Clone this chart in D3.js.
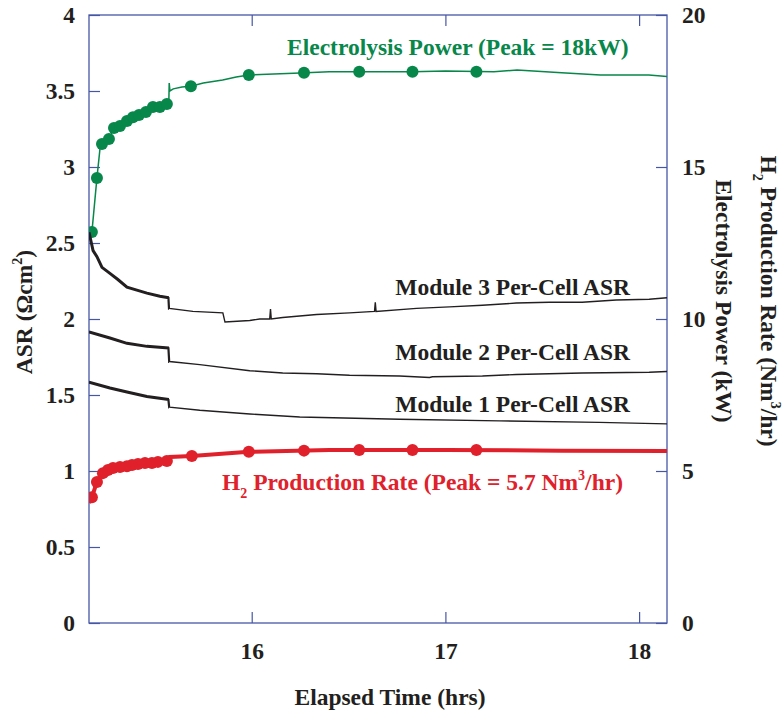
<!DOCTYPE html>
<html>
<head>
<meta charset="utf-8">
<script src="https://cdn.jsdelivr.net/npm/d3@7"></script>
<style>
  body{margin:0;background:#fff;}
  svg text{font-family:"Liberation Serif","Times New Roman",serif;font-weight:bold;}
</style>
</head>
<body>
<div id="chart"></div>
<script>
// ticks
const xTicks = [16, 17, 18];
const asrTicks = [0, 0.5, 1, 1.5, 2, 2.5, 3, 3.5, 4];
const rightTicks = [0, 5, 10, 15, 20];

// per-cell ASR (ohm cm2) vs elapsed time (hrs)
const module3 = [[15.160,2.57],[15.181,2.45],[15.201,2.41],[15.227,2.34],[15.268,2.30],[15.309,2.26],[15.356,2.21],
  [15.407,2.19],[15.459,2.17],[15.526,2.15],[15.572,2.14],[15.575,2.07],[15.696,2.05],[15.851,2.04],[15.862,1.98],
  [15.990,1.99],[16.041,2.00],[16.093,2.00],[16.097,2.065],[16.101,2.00],[16.160,2.01],[16.335,2.03],[16.505,2.04],
  [16.634,2.05],[16.638,2.11],[16.642,2.05],[16.851,2.07],[17.021,2.08],[17.191,2.09],[17.366,2.105],[17.536,2.11],
  [17.706,2.11],[17.882,2.125],[18.052,2.13],[18.144,2.14]];
const module2 = [[15.160,1.915],[15.268,1.875],[15.356,1.84],[15.459,1.82],[15.572,1.81],[15.576,1.72],[15.732,1.70],
  [15.990,1.66],[16.160,1.645],[16.335,1.64],[16.505,1.63],[16.763,1.625],[16.918,1.615],[16.933,1.62],[17.191,1.625],
  [17.366,1.635],[17.706,1.645],[18.052,1.65],[18.144,1.655]];
const module1 = [[15.160,1.585],[15.268,1.546],[15.356,1.52],[15.459,1.49],[15.572,1.47],[15.576,1.42],[15.732,1.40],
  [15.990,1.375],[16.248,1.355],[16.763,1.34],[17.279,1.33],[17.794,1.32],[18.144,1.31]];

// electrolysis power (kW)
const powerLine = [[15.175,12.86],[15.201,14.64],[15.217,15.62],[15.227,15.76],[15.263,15.92],[15.289,16.28],[15.320,16.35],
  [15.356,16.51],[15.387,16.64],[15.418,16.71],[15.454,16.81],[15.490,16.97],[15.526,16.97],[15.562,17.07],[15.572,17.07],
  [15.574,17.76],[15.578,17.5],[15.595,17.57],[15.640,17.63],[15.686,17.66],[15.75,17.76],[15.85,17.86],[15.92,17.96],
  [15.985,18.03],[16.25,18.09],[16.40,18.13],[16.60,18.13],[16.83,18.13],[17.0,18.16],[17.25,18.13],[17.37,18.19],
  [17.6,18.1],[17.8,18.03],[18.05,18.03],[18.144,17.98]];
const powerDots = [[15.175,12.86],[15.201,14.64],[15.227,15.76],[15.263,15.92],[15.289,16.28],[15.320,16.35],[15.356,16.51],
  [15.387,16.64],[15.418,16.71],[15.454,16.81],[15.490,16.97],[15.526,16.97],[15.562,17.07],[15.686,17.66],[15.985,18.03],
  [16.27,18.10],[16.555,18.13],[16.83,18.13],[17.16,18.13]];

// H2 production rate (Nm3/hr)
const h2Line = [[15.160,3.95],[15.175,4.14],[15.201,4.64],[15.232,4.93],[15.258,5.03],[15.284,5.10],[15.320,5.13],
  [15.356,5.16],[15.382,5.20],[15.413,5.23],[15.449,5.26],[15.485,5.26],[15.516,5.30],[15.562,5.33],[15.574,5.36],
  [15.578,5.46],[15.691,5.49],[15.985,5.63],[16.4,5.69],[17.0,5.69],[17.6,5.67],[18.144,5.66]];
const h2Dots = [[15.175,4.14],[15.201,4.64],[15.232,4.93],[15.258,5.03],[15.284,5.10],[15.320,5.13],[15.356,5.16],
  [15.382,5.20],[15.413,5.23],[15.449,5.26],[15.485,5.26],[15.516,5.30],[15.562,5.33],[15.691,5.49],[15.985,5.63],
  [16.27,5.67],[16.555,5.69],[16.83,5.69],[17.16,5.69]];

const W = 784, H = 717;
const mL = 89, mR = 667, mT = 15, mB = 623;
const blue = '#4656a6', green = '#07874a', red = '#e0212b', ink = '#231f20', fs = 23.5;

const svg = d3.select('#chart').append('svg').attr('width', W).attr('height', H);

const x = d3.scaleLinear().domain([15.16, 18.144]).range([mL, mR]);
const yL = d3.scaleLinear().domain([0, 4]).range([mB, mT]);
const yR = d3.scaleLinear().domain([0, 20]).range([mB, mT]);

const defs = svg.append('defs');
defs.append('clipPath').attr('id', 'plot')
  .append('rect').attr('x', mL).attr('y', mT).attr('width', mR - mL).attr('height', mB - mT);
// early part of the run is sampled densely -> looks heavier
defs.append('clipPath').attr('id', 'early')
  .append('rect').attr('x', mL).attr('y', mT).attr('width', x(15.573) - mL).attr('height', mB - mT);

// axes, ticks pointing inward
function styleAxis(g){
  g.select('.domain').remove();
  g.selectAll('line').attr('stroke', blue).attr('stroke-width', 1.2);
  g.selectAll('text').attr('fill', ink).attr('font-size', fs)
    .attr('font-family', '"Liberation Serif","Times New Roman",serif').attr('font-weight', 'bold');
}
svg.append('g').attr('transform', `translate(${mL},0)`)
  .call(d3.axisLeft(yL).tickValues(asrTicks).tickSize(-11).tickPadding(14).tickFormat(d => String(d)))
  .call(styleAxis);
svg.append('g').attr('transform', `translate(${mR},0)`)
  .call(d3.axisRight(yR).tickValues(rightTicks).tickSize(-11).tickPadding(15).tickFormat(d => String(d)))
  .call(styleAxis);
svg.append('g').attr('transform', `translate(0,${mB})`)
  .call(d3.axisBottom(x).tickValues(xTicks).tickSize(-11).tickPadding(19).tickFormat(d => String(d)))
  .call(styleAxis);
svg.append('g').attr('transform', `translate(0,${mT})`)
  .call(d3.axisTop(x).tickValues(xTicks).tickSize(-11).tickFormat(''))
  .call(styleAxis);

svg.append('rect').attr('x', mL).attr('y', mT).attr('width', mR - mL).attr('height', mB - mT)
  .attr('fill', 'none').attr('stroke', blue).attr('stroke-width', 1.3);

const plot = svg.append('g').attr('clip-path', 'url(#plot)');
const heavy = svg.append('g').attr('clip-path', 'url(#early)');
const lineL = d3.line().x(d => x(d[0])).y(d => yL(d[1]));
const lineR = d3.line().x(d => x(d[0])).y(d => yR(d[1]));

[module3, module2, module1].forEach(s => {
  plot.append('path').datum(s).attr('d', lineL)
    .attr('fill', 'none').attr('stroke', ink).attr('stroke-width', 1.4);
  heavy.append('path').datum(s).attr('d', lineL)
    .attr('fill', 'none').attr('stroke', ink).attr('stroke-width', 3);
});

plot.append('path').datum(powerLine).attr('d', lineR)
  .attr('fill', 'none').attr('stroke', green).attr('stroke-width', 1.5);
plot.selectAll('circle.pw').data(powerDots).join('circle').attr('class', 'pw')
  .attr('cx', d => x(d[0])).attr('cy', d => yR(d[1])).attr('r', 6).attr('fill', green);

plot.append('path').datum(h2Line).attr('d', lineR)
  .attr('fill', 'none').attr('stroke', red).attr('stroke-width', 4);
plot.selectAll('circle.h2').data(h2Dots).join('circle').attr('class', 'h2')
  .attr('cx', d => x(d[0])).attr('cy', d => yR(d[1])).attr('r', 6).attr('fill', red);

// in-plot labels
svg.append('text').attr('x', 287).attr('y', 55).attr('font-size', fs).attr('fill', green)
  .text('Electrolysis Power (Peak = 18kW)');
[['Module 3 Per-Cell ASR', 295], ['Module 2 Per-Cell ASR', 360], ['Module 1 Per-Cell ASR', 412]].forEach(([t, yy]) => {
  svg.append('text').attr('x', 630).attr('y', yy).attr('text-anchor', 'end')
    .attr('font-size', fs).attr('fill', ink).text(t);
});
const h2lab = svg.append('text').attr('x', 222).attr('y', 490).attr('font-size', fs).attr('fill', red);
h2lab.append('tspan').text('H');
h2lab.append('tspan').attr('font-size', 14).attr('dy', 8).text('2');
h2lab.append('tspan').attr('dy', -8).text(' Production Rate (Peak = 5.7 Nm');
h2lab.append('tspan').attr('font-size', 14).attr('dy', -10).text('3');
h2lab.append('tspan').attr('dy', 10).text('/hr)');

// axis titles
svg.append('text').attr('x', 390).attr('y', 705).attr('text-anchor', 'middle')
  .attr('font-size', fs).attr('fill', ink).text('Elapsed Time (hrs)');

const asrT = svg.append('text').attr('transform', 'translate(32,312) rotate(-90)')
  .attr('text-anchor', 'middle').attr('font-size', fs).attr('fill', ink);
asrT.append('tspan').text('ASR (Ωcm');
asrT.append('tspan').attr('font-size', 14).attr('dy', -10).text('2');
asrT.append('tspan').attr('dy', 10).text(')');

const h2T = svg.append('text').attr('transform', 'translate(761,301) rotate(90)')
  .attr('text-anchor', 'middle').attr('font-size', fs).attr('fill', ink);
h2T.append('tspan').text('H');
h2T.append('tspan').attr('font-size', 14).attr('dy', 8).text('2');
h2T.append('tspan').attr('dy', -8).text(' Production Rate (Nm');
h2T.append('tspan').attr('font-size', 14).attr('dy', -10).text('3');
h2T.append('tspan').attr('dy', 10).text('/hr)');

svg.append('text').attr('transform', 'translate(716,301) rotate(90)')
  .attr('text-anchor', 'middle').attr('font-size', fs).attr('fill', ink).text('Electrolysis Power (kW)');
</script>
</body>
</html>
